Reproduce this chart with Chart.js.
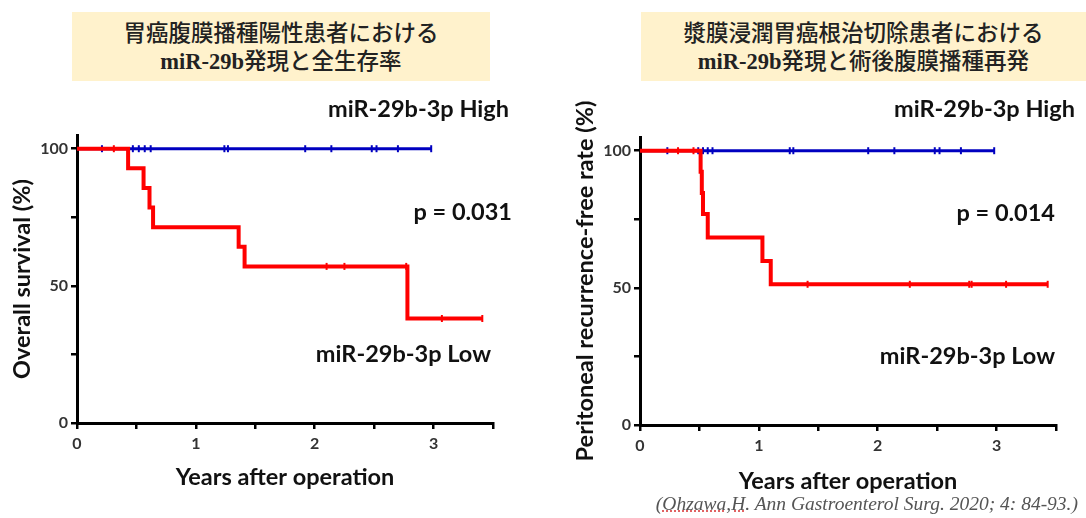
<!DOCTYPE html>
<html><head><meta charset="utf-8">
<script src="https://cdn.jsdelivr.net/npm/chart.js@4.4.1/dist/chart.umd.min.js"></script>
<style>
html,body{margin:0;padding:0;background:#fff;width:1086px;height:518px;overflow:hidden;position:relative}
.box{position:absolute;top:12px;height:69px;background:#FFF2CC;text-align:center;color:#222;display:flex;flex-direction:column;justify-content:center;font-size:22.5px;line-height:28px;font-family:"Noto Sans CJK JP",sans-serif;font-weight:500}
.box .lat{font-family:"Liberation Serif",serif;font-weight:bold}
canvas{position:absolute;top:0}
.ann{position:absolute;font-family:Lato,"Open Sans",sans-serif;font-weight:bold;font-size:23.5px;color:#111;white-space:nowrap;transform:translateY(-50%);text-align:right}
.cite{position:absolute;right:8px;top:493px;font-family:"Liberation Serif",serif;font-style:italic;font-size:19.5px;line-height:22px;color:#555;white-space:nowrap}
.cite .sp{text-decoration:underline dotted #e06060}
</style></head>
<body>
<div class="box" style="left:72px;width:418px"><div>胃癌腹膜播種陽性患者における</div><div><span class="lat">miR-29b</span>発現と全生存率</div></div>
<div class="box" style="left:641px;width:445px"><div>漿膜浸潤胃癌根治切除患者における</div><div><span class="lat">miR-29b</span>発現と術後腹膜播種再発</div></div>
<canvas id="c1" width="543" height="518" style="left:0"></canvas>
<canvas id="c2" width="543" height="518" style="left:543px"></canvas>
<div class="ann" style="right:577px;top:108px">miR-29b-3p High</div>
<div class="ann" style="right:574px;top:211px">p = 0.031</div>
<div class="ann" style="right:595px;top:353px">miR-29b-3p Low</div>
<div class="ann" style="right:11px;top:108px">miR-29b-3p High</div>
<div class="ann" style="right:31px;top:212px">p = 0.014</div>
<div class="ann" style="right:31px;top:355px">miR-29b-3p Low</div>
<div class="cite">(<span class="sp">Ohzawa,H</span>. Ann Gastroenterol Surg. 2020; 4: 84-93.)</div>
<script>
// ---- Data ----
const xTicks = [0, 0.5, 1, 1.5, 2, 2.5, 3, 3.5];
const yTicks = [0, 25, 50, 75, 100];
const yTickLabels = {0: '0', 50: '50', 100: '100'};

// Left: overall survival
const osLowX = [0, 0.43, 0.56, 0.61, 0.64, 1.36, 1.41, 2.78, 3.41];
const osLowY = [100, 92.9, 85.7, 78.6, 71.4, 64.3, 57.1, 38.1, 38.1];
const osLowCensorX = [0.31, 2.10, 2.25, 2.77, 3.07, 3.41];
const osLowCensorY = [100, 57.1, 57.1, 57.1, 38.1, 38.1];
const osHighX = [0, 2.98];
const osHighY = [100, 100];
const osHighCensorX = [0.21, 0.47, 0.52, 0.57, 0.62, 1.24, 1.27, 1.92, 2.14, 2.48, 2.52, 2.70, 2.98];

// Right: peritoneal recurrence-free rate
const rfsLowX = [0, 0.51, 0.52, 0.53, 0.57, 1.03, 1.10, 3.43];
const rfsLowY = [100, 92.3, 84.6, 76.9, 68.4, 59.8, 51.3, 51.3];
const rfsLowCensorX = [0.32, 0.45, 1.41, 2.27, 2.77, 2.79, 3.08, 3.43];
const rfsLowCensorY = [100, 100, 51.3, 51.3, 51.3, 51.3, 51.3, 51.3];
const rfsHighX = [0, 2.98];
const rfsHighY = [100, 100];
const rfsHighCensorX = [0.23, 0.49, 0.53, 0.57, 0.61, 1.26, 1.29, 1.92, 2.14, 2.48, 2.52, 2.70, 2.98];

const RED = '#FF0000', BLUE = '#0000C0';
const xy = (xs, ys) => xs.map((x, i) => ({x, y: ys[i]}));
const flat = (xs, v) => xs.map(x => ({x, y: v}));

function makeChart(id, d, L) {
  const tickFont = {family: 'Lato, "Open Sans", sans-serif', size: 16, weight: 'bold'};
  const titleFont = {family: 'Lato, "Open Sans", sans-serif', size: 23.5, weight: 'bold'};
  return new Chart(document.getElementById(id), {
    type: 'scatter',
    data: {datasets: [
      {type: 'line', data: xy(d.lowX, d.lowY), borderColor: RED, borderWidth: 4, stepped: true, pointRadius: 0, fill: false, order: 1},
      {type: 'scatter', data: xy(d.lowCX, d.lowCY), pointStyle: 'line', rotation: 90, radius: 3.5, borderColor: RED, backgroundColor: RED, borderWidth: 2, order: 0},
      {type: 'line', data: xy(d.highX, d.highY), borderColor: BLUE, borderWidth: 3, pointRadius: 0, fill: false, order: 3},
      {type: 'scatter', data: flat(d.highCX, 100), pointStyle: 'line', rotation: 90, radius: 3.5, borderColor: BLUE, backgroundColor: BLUE, borderWidth: 2, order: 2}
    ]},
    options: {
      responsive: false, animation: false,
      layout: {padding: {left: 0, top: L.top, right: L.right, bottom: 0}},
      plugins: {legend: {display: false}, tooltip: {enabled: false}},
      scales: {
        x: {
          type: 'linear', min: 0, max: 3.5,
          afterBuildTicks: s => { s.ticks = xTicks.map(v => ({value: v})); },
          afterFit: s => { s.height = L.xH; },
          ticks: {callback: v => Number.isInteger(v) ? String(v) : '', font: tickFont, color: '#333', maxRotation: 0, autoSkip: false, padding: 5},
          grid: {drawOnChartArea: false, color: '#000', lineWidth: 2.5, tickLength: 6},
          border: {color: '#000', width: 3},
          title: {display: true, text: 'Years after operation', font: titleFont, color: '#111', padding: {top: 0, bottom: L.xTitlePad}}
        },
        y: {
          type: 'linear', min: 0, max: 105,
          afterBuildTicks: s => { s.ticks = yTicks.map(v => ({value: v})); },
          afterFit: s => { s.width = L.yW; },
          ticks: {callback: v => yTickLabels[v] || '', font: tickFont, color: '#333', padding: 3, autoSkip: false},
          grid: {drawOnChartArea: false, color: '#000', lineWidth: 2.5, tickLength: 6},
          border: {color: '#000', width: 3},
          title: {display: true, text: L.yTitle, font: titleFont, color: '#111', padding: {top: L.yTitlePad, bottom: 0}}
        }
      }
    }
  });
}

makeChart('c1', {lowX: osLowX, lowY: osLowY, lowCX: osLowCensorX, lowCY: osLowCensorY, highX: osHighX, highY: osHighY, highCX: osHighCensorX},
  {top: 135, right: 50, xH: 95, yW: 77, xTitlePad: 26, yTitlePad: 8, yTitle: 'Overall survival (%)'});
makeChart('c2', {lowX: rfsLowX, lowY: rfsLowY, lowCX: rfsLowCensorX, lowCY: rfsLowCensorY, highX: rfsHighX, highY: rfsHighY, highCX: rfsHighCensorX},
  {top: 137, right: 30, xH: 93, yW: 97, xTitlePad: 22, yTitlePad: 28, yTitle: 'Peritoneal recurrence-free rate (%)'});
</script>
</body></html>
